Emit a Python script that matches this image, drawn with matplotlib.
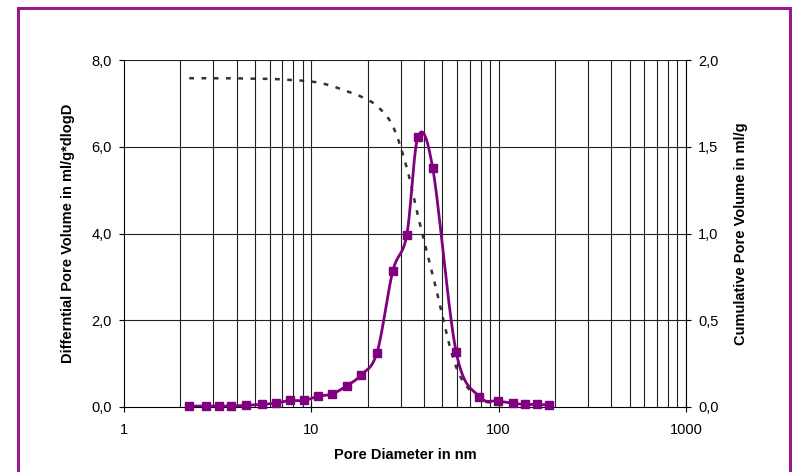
import numpy as np
import matplotlib
matplotlib.use('Agg')
import matplotlib.pyplot as plt
from matplotlib.patches import Rectangle
from matplotlib.ticker import FixedLocator, FuncFormatter, NullLocator

plt.rcParams['font.family'] = ['Liberation Sans', 'DejaVu Sans']

# pore diameters (nm)
diameter = [2.23, 2.73, 3.23, 3.71, 4.46, 5.48, 6.46, 7.69, 9.18, 10.86,
            12.9, 15.45, 18.35, 22.4, 27.2, 32.3, 37.1, 44.5, 59.3, 78.9,
            98.9, 118.9, 138.4, 159.7, 185.8]
# differential pore volume, ml/g*dlogD (left axis)
diff_vol = [0.02, 0.02, 0.02, 0.02, 0.04, 0.06, 0.09, 0.15, 0.15, 0.25,
            0.30, 0.49, 0.73, 1.25, 3.13, 3.96, 6.23, 5.50, 1.27, 0.24,
            0.14, 0.085, 0.06, 0.06, 0.045]
# cumulative pore volume, ml/g (right axis)
cum_vol = [1.895, 1.895, 1.895, 1.895, 1.893, 1.892, 1.89, 1.885, 1.88, 1.87,
           1.85, 1.82, 1.79, 1.735, 1.62, 1.38, 1.10, 0.76, 0.23, 0.05,
           0.025, 0.015, 0.01, 0.005, 0.0]

x_ticks = [1, 10, 100, 1000]
left_ticks = [0, 2, 4, 6, 8]
right_ticks = [0, 0.5, 1.0, 1.5, 2.0]

purple = '#800080'


def smooth(x, y, xlim, ylim, n=30):
    # Excel-like smoothed line: bezier through points, built in screen-scaled space
    u = (np.log10(x) - np.log10(xlim[0])) / (np.log10(xlim[1]) - np.log10(xlim[0])) * 562
    v = (np.asarray(y) - ylim[0]) / (ylim[1] - ylim[0]) * 347
    p = np.column_stack([u, v])
    p = np.vstack([p[0], p, p[-1]])
    out = []
    for i in range(1, len(p) - 2):
        p0, p1, p2, p3 = p[i - 1], p[i], p[i + 1], p[i + 2]
        c1 = p1 + (p2 - p0) / 6
        c2 = p2 - (p3 - p1) / 6
        t = np.linspace(0, 1, n)[:, None]
        seg = ((1 - t) ** 3) * p1 + 3 * ((1 - t) ** 2) * t * c1 + 3 * (1 - t) * t ** 2 * c2 + t ** 3 * p2
        out.append(seg if i == 1 else seg[1:])
    s = np.vstack(out)
    xs = 10 ** (s[:, 0] / 562 * (np.log10(xlim[1]) - np.log10(xlim[0])) + np.log10(xlim[0]))
    ys = s[:, 1] / 347 * (ylim[1] - ylim[0]) + ylim[0]
    return xs, ys


fig = plt.figure(figsize=(7.92, 4.72), dpi=100)
fig.patches.append(Rectangle((17.5 / 792, -0.05), (789.5 - 17.5) / 792, 1.05 - 8 / 472,
                             transform=fig.transFigure, fill=False,
                             edgecolor='#9A1A8E', linewidth=2.2))

ax = fig.add_axes([124 / 792, 65 / 472, 562 / 792, 347 / 472])
ax.set_xscale('log')
ax.set_xlim(1, 1000)
ax.set_ylim(0, 8)

# grid: every minor and major decade line, horizontal at major ticks
for dec in [1, 10, 100]:
    for k in range(2, 11):
        ax.axvline(dec * k, color='#222222', linewidth=0.8, zorder=1)
for yv in left_ticks[1:]:
    ax.axhline(yv, color='#222222', linewidth=0.8, zorder=1)

ax2 = ax.twinx()
ax2.set_ylim(0, 2.0)

xs, ys = smooth(diameter, cum_vol, (1, 1000), (0, 2.0))
ax2.plot(xs, ys, color='#333333', linewidth=1.8, dashes=(1.9, 3.0), zorder=2)

xs, ys = smooth(diameter, diff_vol, (1, 1000), (0, 8))
ax.plot(xs, ys, color=purple, linewidth=2, zorder=3)
ax.plot(diameter, diff_vol, linestyle='none', marker='s', markersize=5.5,
        color=purple, zorder=4, clip_on=False)
ax.set_zorder(ax2.get_zorder() + 1)
ax.patch.set_visible(False)

for a in (ax, ax2):
    a.spines['top'].set_visible(False)
ax.spines['right'].set_visible(False)
ax2.spines['left'].set_visible(False)
ax2.spines['bottom'].set_visible(False)

ax.xaxis.set_major_locator(FixedLocator(x_ticks))
ax.xaxis.set_minor_locator(NullLocator())
ax.set_xticklabels([str(v) for v in x_ticks])
ax.set_yticks(left_ticks)
ax.yaxis.set_major_formatter(FuncFormatter(lambda v, p: f'{v:.1f}'.replace('.', ',')))
ax2.set_yticks(right_ticks)
ax2.yaxis.set_major_formatter(FuncFormatter(lambda v, p: f'{v:.1f}'.replace('.', ',')))

ax.tick_params(axis='x', direction='inout', length=7, width=0.8, labelsize=10.5, pad=8)
ax.tick_params(axis='y', direction='out', length=3.6, width=0.8, labelsize=10.5, pad=5)
ax2.tick_params(axis='y', direction='out', length=3.6, width=0.8, labelsize=10.5, pad=5)

ax.set_xlabel('Pore Diameter in nm', fontsize=10.5, fontweight='bold', labelpad=8)
ax.set_ylabel('Differntial Pore Volume in ml/g*dlogD', fontsize=10.5, fontweight='bold', labelpad=12)
ax2.set_ylabel('Cumulative Pore Volume in ml/g', fontsize=10.5, fontweight='bold', labelpad=11)

fig.savefig('out.png', dpi=100)
